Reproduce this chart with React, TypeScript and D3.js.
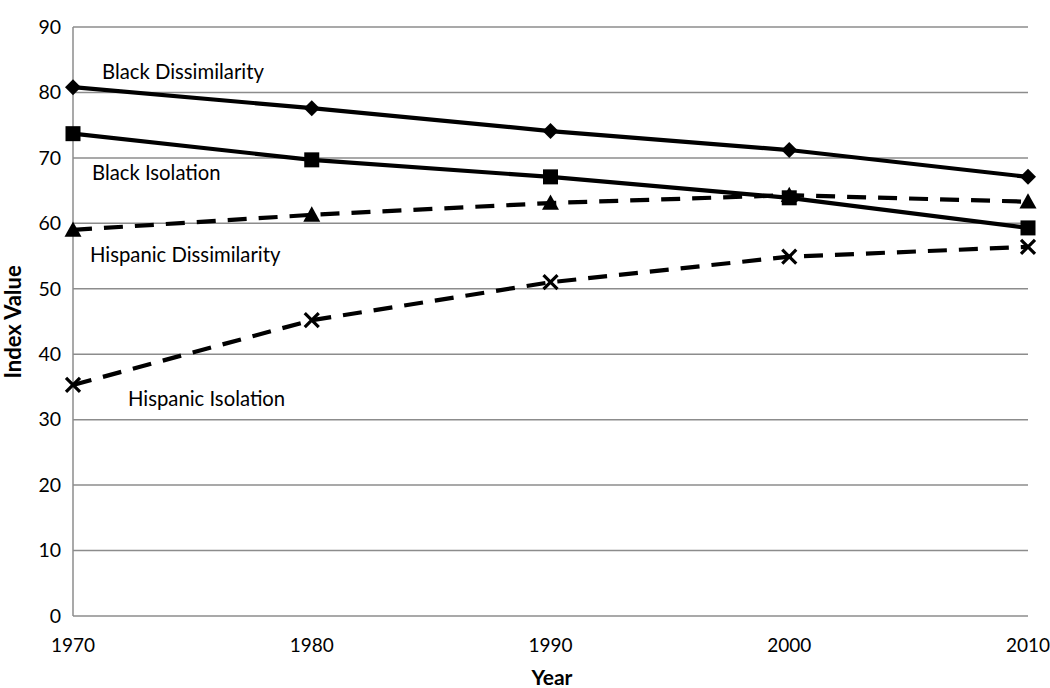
import React from "react";
import * as d3 from "d3";

const years = [1970, 1980, 1990, 2000, 2010];
const blackDissimilarity = [80.8, 77.6, 74.1, 71.2, 67.1];
const blackIsolation = [73.7, 69.7, 67.1, 63.9, 59.3];
const hispanicDissimilarity = [59.0, 61.3, 63.1, 64.3, 63.3];
const hispanicIsolation = [35.3, 45.2, 51.0, 54.9, 56.4];
const yTicks = [0, 10, 20, 30, 40, 50, 60, 70, 80, 90];

const seriesList = [
  { name: "Black Dissimilarity", values: blackDissimilarity, dashed: false, marker: "diamond", lx: 102, ly: 79 },
  { name: "Black Isolation", values: blackIsolation, dashed: false, marker: "square", lx: 92, ly: 180 },
  { name: "Hispanic Dissimilarity", values: hispanicDissimilarity, dashed: true, marker: "triangle", lx: 90, ly: 262 },
  { name: "Hispanic Isolation", values: hispanicIsolation, dashed: true, marker: "x", lx: 128, ly: 406 },
];

const FONT = "Lato, 'Open Sans', sans-serif";

export default function App() {
  const W = 1050, H = 688;
  const left = 73, right = 1028, top = 27, bottom = 616;
  const x = d3.scaleLinear().domain([1970, 2010]).range([left, right]);
  const y = d3.scaleLinear().domain([0, 90]).range([bottom, top]);
  const line = d3.line<number>().x((_, i) => x(years[i])).y((d) => y(d));

  const marker = (type: string, cx: number, cy: number, key: string) => {
    if (type === "diamond") {
      const s = 8;
      return <path key={key} d={`M${cx},${cy - s}L${cx + s},${cy}L${cx},${cy + s}L${cx - s},${cy}Z`} fill="#000" />;
    }
    if (type === "square") {
      const s = 7.5;
      return <rect key={key} x={cx - s} y={cy - s} width={2 * s} height={2 * s} fill="#000" />;
    }
    if (type === "triangle") {
      const s = 8.5;
      return <path key={key} d={`M${cx},${cy - s}L${cx + s},${cy + s * 0.8}L${cx - s},${cy + s * 0.8}Z`} fill="#000" />;
    }
    const s = 7;
    return (
      <path key={key} d={`M${cx - s},${cy - s}L${cx + s},${cy + s}M${cx - s},${cy + s}L${cx + s},${cy - s}`} stroke="#000" strokeWidth={3.2} fill="none" />
    );
  };

  return (
    <svg width={W} height={H} style={{ position: "absolute", left: 0, top: 0, background: "#fff" }}>
      {yTicks.map((t) => (
        <g key={t}>
          <line x1={left} x2={right} y1={y(t)} y2={y(t)} stroke="#8c8c8c" strokeWidth={1.5} />
          <text x={61} y={y(t)} dy="0.35em" textAnchor="end" fontFamily={FONT} fontSize={19.5} fill="#000">
            {t}
          </text>
        </g>
      ))}
      <line x1={left} x2={left} y1={top} y2={bottom} stroke="#8c8c8c" strokeWidth={1.5} />
      {years.map((yr) => (
        <text key={yr} x={x(yr)} y={652} textAnchor="middle" fontFamily={FONT} fontSize={19} fill="#000">
          {yr}
        </text>
      ))}
      <text x={552} y={685} textAnchor="middle" fontFamily={FONT} fontSize={21} fontWeight="bold" fill="#000">
        Year
      </text>
      <text transform={`translate(21,322) rotate(-90)`} textAnchor="middle" fontFamily={FONT} fontSize={22} fontWeight="bold" fill="#000">
        Index Value
      </text>
      {seriesList.map((s) => (
        <g key={s.name}>
          <path d={line(s.values) || ""} fill="none" stroke="#000" strokeWidth={4.2} strokeDasharray={s.dashed ? "19 12" : undefined} />
          {s.values.map((v, i) => marker(s.marker, x(years[i]), y(v), s.name + i))}
          <text x={s.lx} y={s.ly} fontFamily={FONT} fontSize={20.3} fill="#000">
            {s.name}
          </text>
        </g>
      ))}
    </svg>
  );
}
